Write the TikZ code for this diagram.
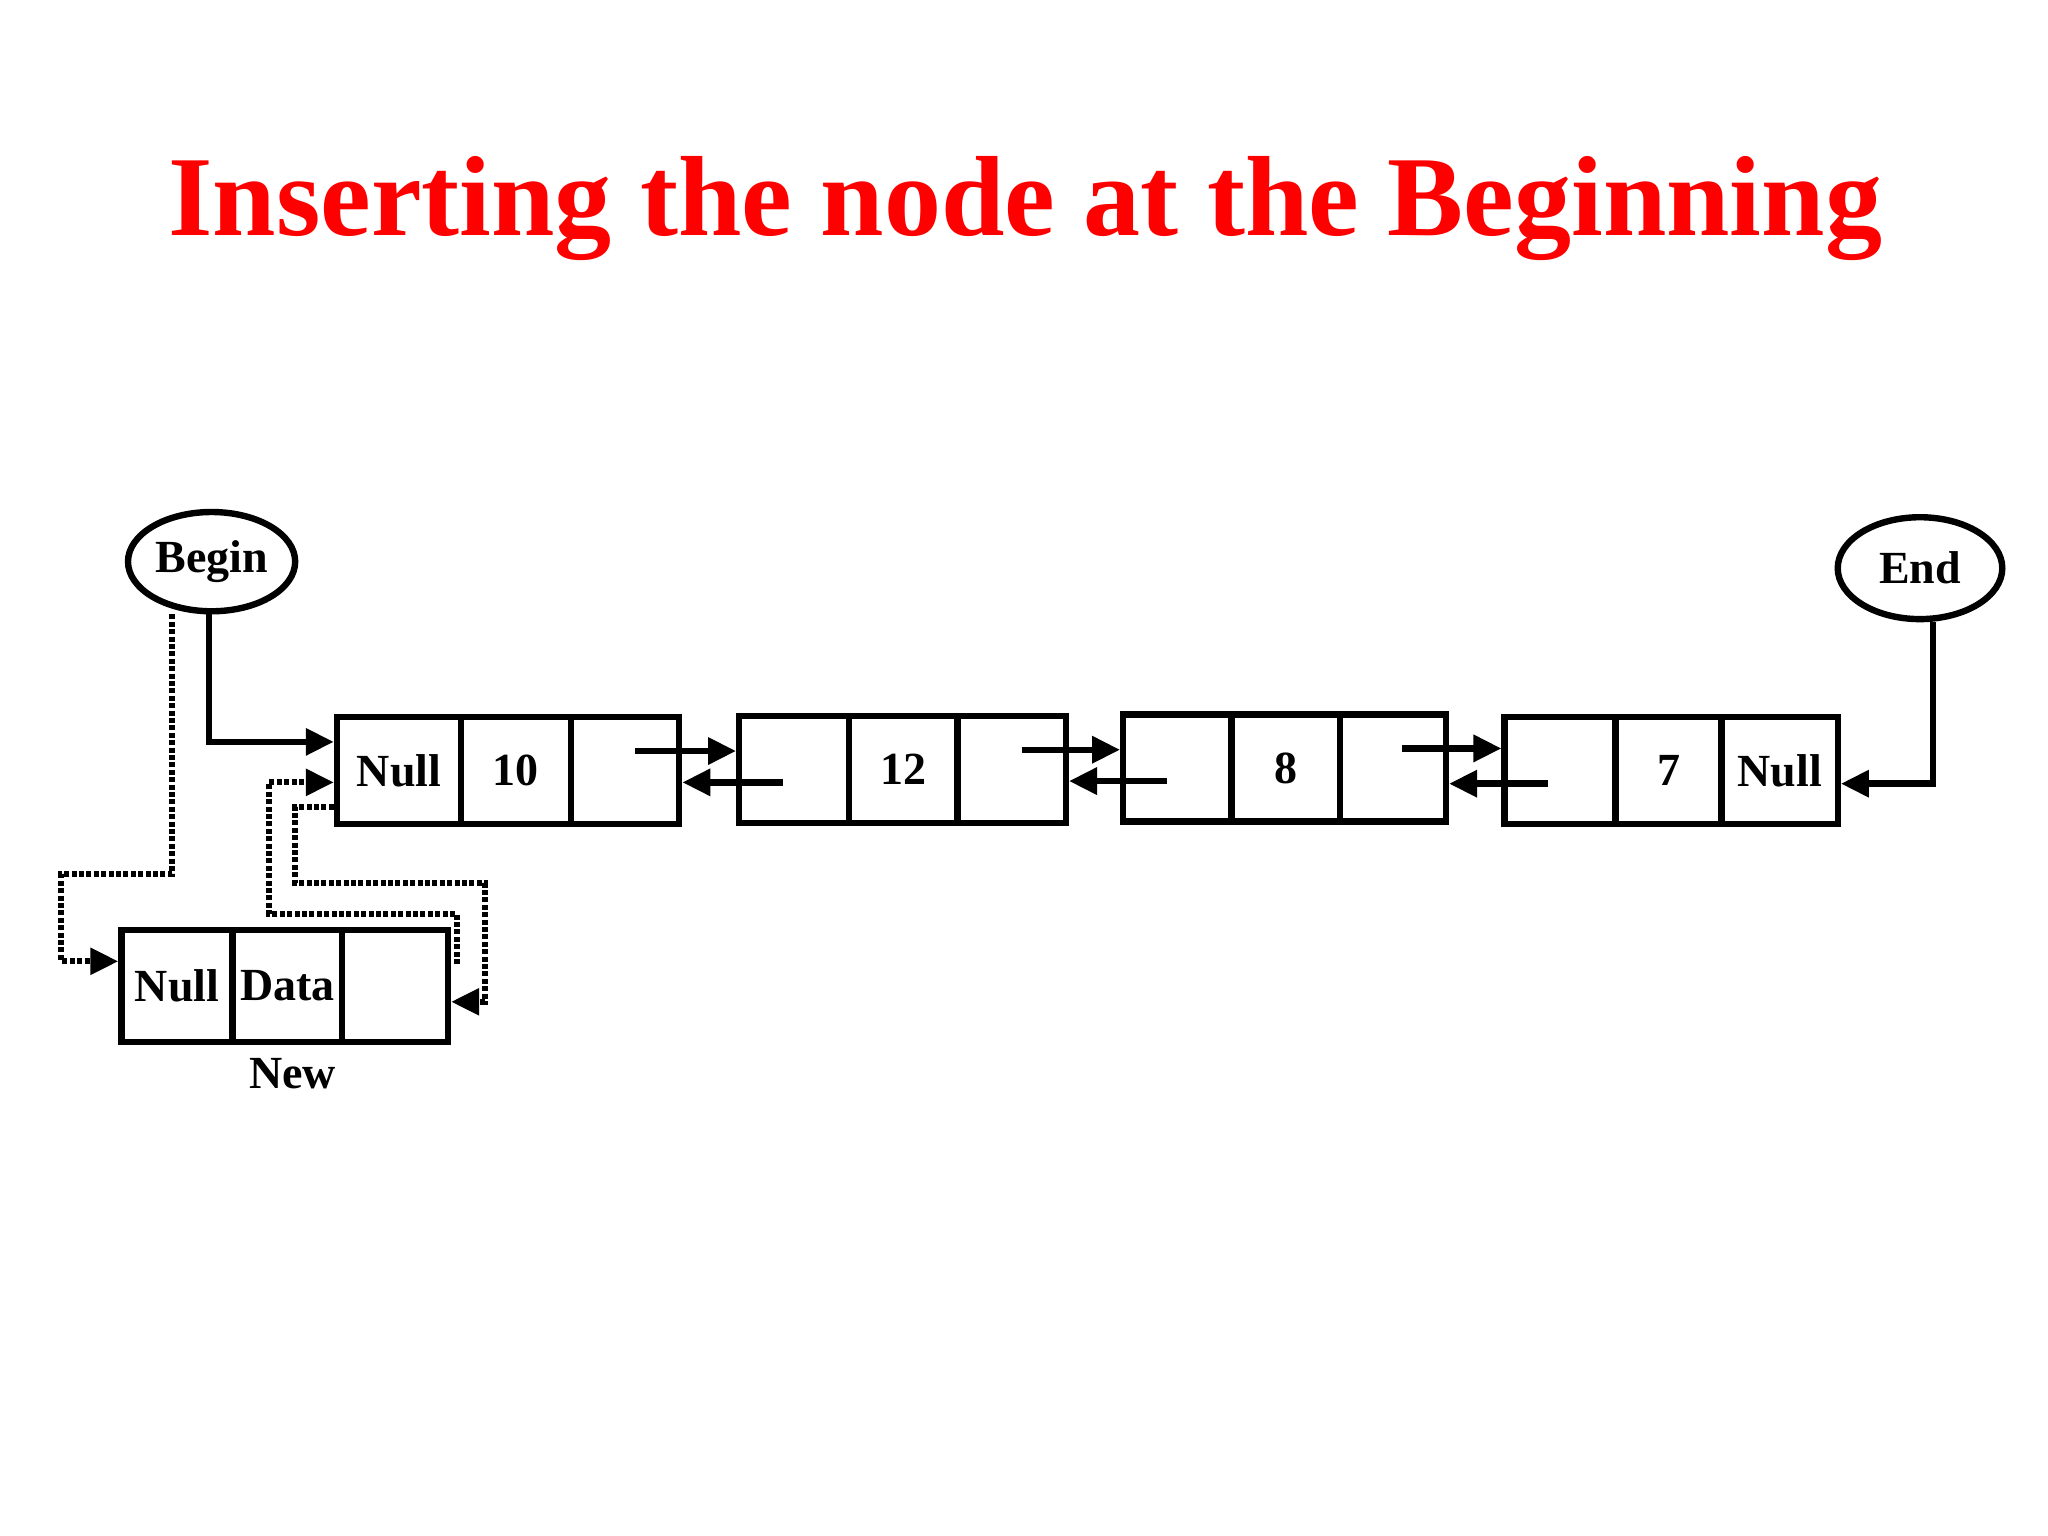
\documentclass[tikz,border=0pt]{standalone}
\usepackage{fontspec}
\setmainfont{Liberation Serif}
\usetikzlibrary{shapes.geometric,arrows.meta}
\def\u{0.653pt}
\begin{document}
\begin{tikzpicture}[x=0.653pt,y=-0.653pt,
  cell/.style={draw,line width=3.2pt,inner sep=0pt,minimum height=82*\u,font=\bfseries\fontsize{23}{25}\selectfont},
  oval/.style={draw,ellipse,line width=3.2pt,inner sep=0pt,font=\bfseries\fontsize{23}{25}\selectfont},
  arr/.style={line width=3.2pt,-{Triangle[length=14pt,width=13pt]}},
  dot/.style={line width=3pt,dash pattern=on 2.5pt off 1.2pt,-{Triangle[length=14pt,width=13pt]}}]
\useasboundingbox (0,0) rectangle (1568,1176);
\node[text=red,font=\bfseries\fontsize{57}{60}\selectfont] (title) at (785,160) {Inserting the node at the Beginning};
\node[oval,minimum width=128*\u,minimum height=76*\u] (begin) at (162,430) {Begin};
\node[oval,minimum width=126*\u,minimum height=78*\u] (end) at (1470,435) {End};
% node 1
\node[cell,minimum width=95*\u] (n1a) at (305.5,590) {Null};
\node[cell,minimum width=84*\u] (n1b) at (395,590) {10};
\node[cell,minimum width=83*\u] (n1c) at (478.5,590) {};
% node 2
\node[cell,minimum width=84*\u] (n2a) at (608,589) {};
\node[cell,minimum width=83*\u] (n2b) at (691.5,589) {12};
\node[cell,minimum width=83*\u] (n2c) at (774.5,589) {};
% node 3
\node[cell,minimum width=83*\u] (n3a) at (901.5,588) {};
\node[cell,minimum width=83*\u] (n3b) at (984.5,588) {8};
\node[cell,minimum width=81*\u] (n3c) at (1066.5,588) {};
% node 4
\node[cell,minimum width=85*\u] (n4a) at (1194.5,590) {};
\node[cell,minimum width=81*\u] (n4b) at (1277.5,590) {7};
\node[cell,minimum width=89*\u] (n4c) at (1362.5,590) {Null};
% new node
\node[cell,minimum width=85*\u,minimum height=86*\u] (newa) at (135.5,755) {Null};
\node[cell,minimum width=84*\u,minimum height=86*\u] (newb) at (220,755) {Data};
\node[cell,minimum width=81*\u,minimum height=86*\u] (newc) at (302.5,755) {};
\node[font=\bfseries\fontsize{23}{25}\selectfont] (newlbl) at (224,822) {New};
% links
\foreach \a/\b in {n1c/n2a,n2c/n3a,n3c/n4a}{
  \draw[arr] ([xshift=-36*\u,yshift=15*\u]\a.east) -- ([yshift=15*\u]\a.east -| \b.west);
  \draw[arr] ([xshift=36*\u,yshift=-10*\u]\b.west) -- ([yshift=-10*\u]\b.west -| \a.east);
}
\draw[arr] ([xshift=-2*\u]begin.south) |- ([yshift=22*\u]n1a.west);
\draw[arr] ([xshift=10*\u]end.south) |- ([yshift=-10*\u]n4c.east);
% dotted
\draw[dot] ([xshift=-30*\u]begin.south) |- (47,669) |- ([yshift=19*\u]newa.west);
\coordinate (s2) at (350,738);
\draw[dot] (s2) -- (350,700) -| (206,599) -- ([yshift=-9*\u]n1a.west);
\draw[dot] ([yshift=-28*\u]n1a.west) -| (226,676) -| (371,767) -- ([yshift=-12*\u]newc.east);
\end{tikzpicture}
\end{document}
